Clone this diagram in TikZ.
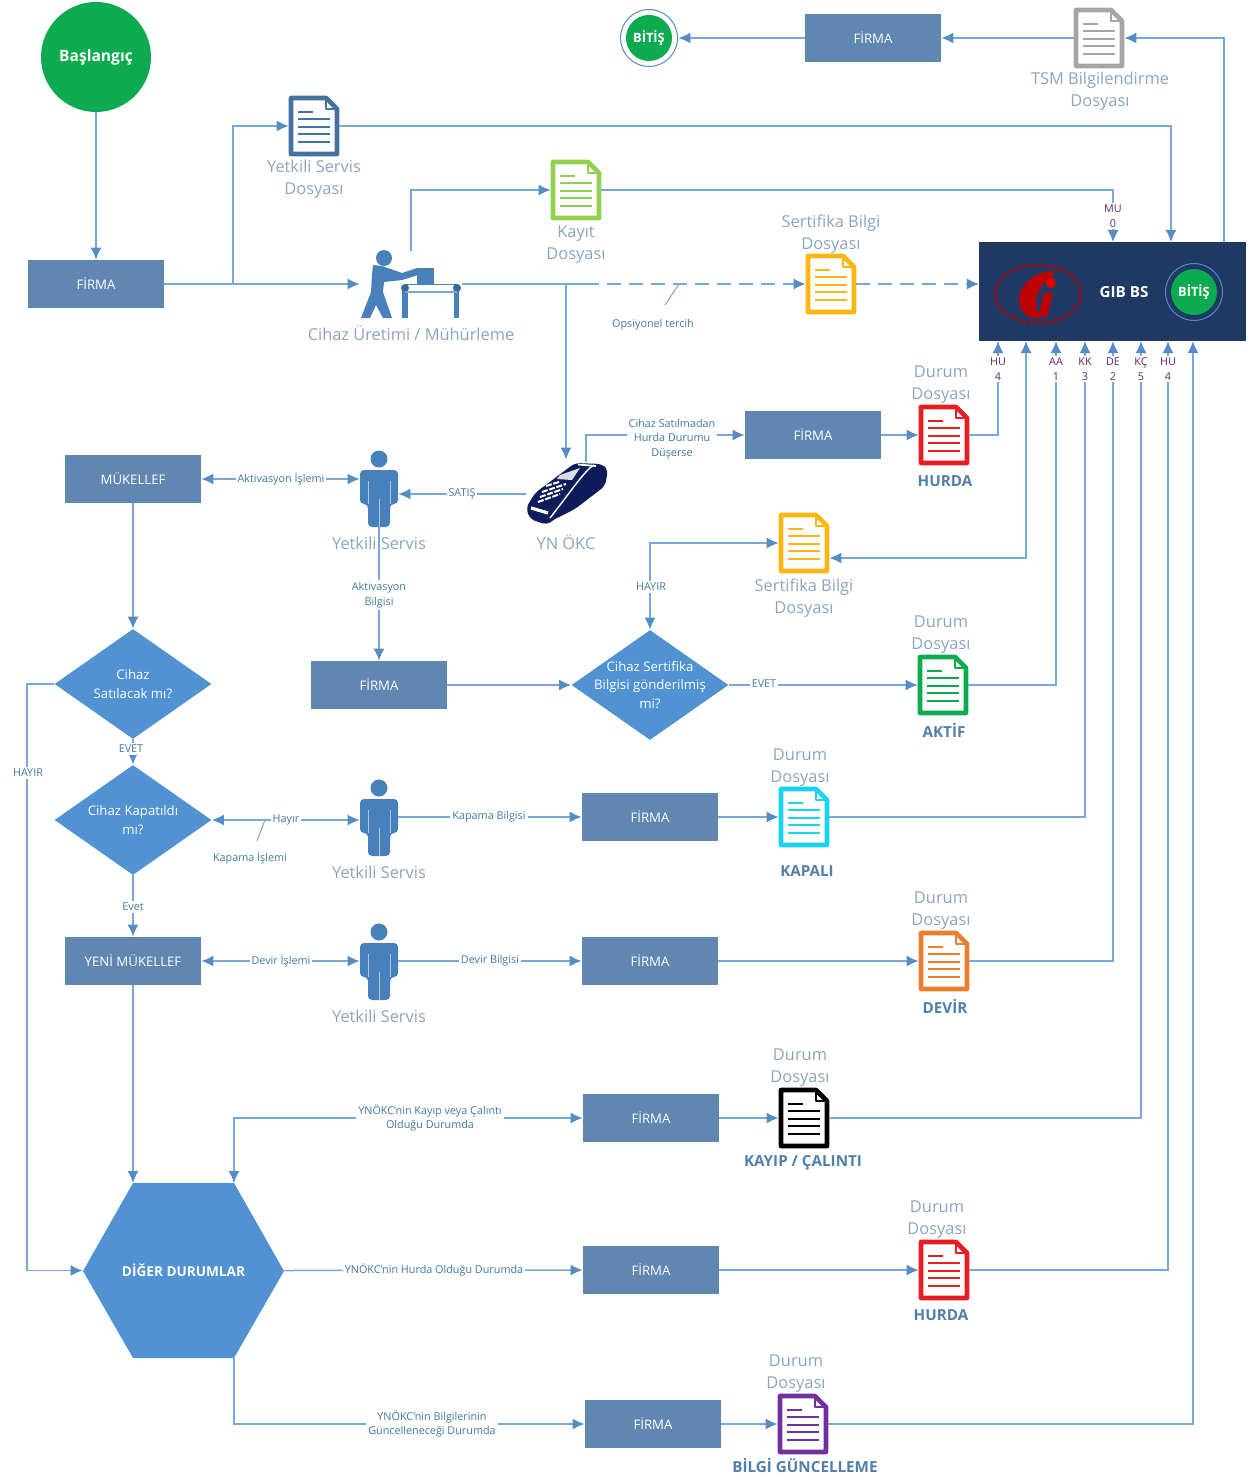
\documentclass[tikz,border=0pt]{standalone}
\usepackage{fontspec}
\setmainfont{Open Sans}
\usetikzlibrary{arrows.meta,shapes.geometric,calc}
\definecolor{hatrenk}{RGB}{122,168,214}
\definecolor{okrenk}{RGB}{84,141,198}
\definecolor{kutu}{RGB}{96,134,178}
\definecolor{karar}{RGB}{80,146,210}
\definecolor{kisirenk}{RGB}{72,128,188}
\definecolor{yazi}{RGB}{138,165,190}
\definecolor{etiketyazi}{RGB}{66,120,160}
\definecolor{kalin}{RGB}{80,128,170}
\definecolor{lacivert}{RGB}{31,56,100}
\definecolor{posrenk}{RGB}{14,28,92}
\definecolor{yesil}{RGB}{13,171,79}
\definecolor{mor}{RGB}{96,40,110}
\definecolor{dosyagri}{RGB}{165,165,165}
\definecolor{dosyamavi}{RGB}{68,114,160}
\definecolor{dosyayesil}{RGB}{146,208,80}
\definecolor{dosyasari}{RGB}{251,182,18}
\definecolor{dosyakirmizi}{RGB}{232,28,36}
\definecolor{dosyacamgobegi}{RGB}{25,212,240}
\definecolor{dosyaturuncu}{RGB}{237,125,49}
\definecolor{dosyamor}{RGB}{112,48,160}
\newlength{\du}
\setlength{\du}{0.5pt}
\tikzset{
  baglanti/.style={draw=hatrenk,line width=0.75pt,-{Latex[length=6pt,width=5.5pt,color=okrenk]}},
  ikiyon/.style={draw=hatrenk,line width=0.75pt,{Latex[length=6pt,width=5.5pt,color=okrenk]}-{Latex[length=6pt,width=5.5pt,color=okrenk]}},
  duzhat/.style={draw=hatrenk,line width=0.75pt},
  kesikhat/.style={draw=hatrenk,line width=0.75pt,dash pattern=on 7pt off 4pt,-{Latex[length=6pt,width=5.5pt,color=okrenk]}},
  ince/.style={draw=hatrenk,line width=0.5pt},
  firmakutu/.style={rectangle,fill=kutu,text=white,font=\fontsize{6.6}{8}\selectfont,minimum width=136\du,minimum height=48\du,inner sep=0pt},
  kararkutu/.style={diamond,fill=karar,minimum width=157\du,minimum height=110\du,inner sep=0pt},
  kararyazi/.style={text=white,font=\fontsize{6.6}{9.2}\selectfont,align=center,inner sep=0pt},
  baslik/.style={text=yazi,font=\fontsize{8.2}{11}\selectfont,align=center,inner sep=0pt,yshift=-2\du},
  etiket/.style={text=etiketyazi,font=\fontsize{5.4}{7.4}\selectfont,align=center,fill=white,inner sep=1pt,yshift=-2\du},
  kodyazi/.style={text=mor,font=\fontsize{5.4}{7.8}\selectfont,align=center,fill=white,inner sep=0.5pt},
  kalinyazi/.style={text=kalin,font=\fontsize{7.6}{9}\selectfont\bfseries,inner sep=0pt},
  dosyakutu/.style={rectangle,minimum width=50\du,minimum height=60\du,inner sep=0pt},
  kisikutu/.style={rectangle,minimum width=38\du,minimum height=76\du,inner sep=0pt},
}
% document icon, centred on the node
\newcommand{\dosya}[4]{
\node[dosyakutu] (#1) at (#2\du,#3\du) {};
\begin{scope}[shift={(#2\du,#3\du)},draw=#4]
\draw[line width=2.3pt,line join=round,fill=white] (-23\du,-28\du)--(12\du,-28\du)--(23\du,-17\du)--(23\du,28\du)--(-23\du,28\du)--cycle;
\draw[line width=1.1pt,line join=round] (12\du,-27\du)--(12\du,-17\du)--(22\du,-17\du);
\draw[line width=1.2pt] (-16\du,-14\du)--(-1\du,-14\du);
\draw[line width=1.2pt] (-16\du,-7\du)--(16\du,-7\du);
\draw[line width=1.2pt] (-16\du,1\du)--(16\du,1\du);
\draw[line width=1.2pt] (-16\du,8\du)--(16\du,8\du);
\draw[line width=1.2pt] (-16\du,16\du)--(16\du,16\du);
\end{scope}
}
% standing person icon
\newcommand{\kisi}[3]{
\node[kisikutu] (#1) at (#2\du,#3\du) {};
\begin{scope}[shift={(#2\du,#3\du)}]
\fill[kisirenk] (0\du,-30\du) circle (8.5\du);
\fill[kisirenk,rounded corners=2pt] (-19\du,-19\du)--(19\du,-19\du)--(19\du,15\du)--(11\du,15\du)--(11\du,38\du)--(-11\du,38\du)--(-11\du,15\du)--(-19\du,15\du)--cycle;
\draw[white!55!kisirenk,line width=0.35pt] (0\du,10\du)--(0\du,38\du) (-11\du,-8\du)--(-11\du,15\du) (11\du,-8\du)--(11\du,15\du);
\end{scope}
}
% end circle
\newcommand{\bitis}[4]{
\node[circle,fill=#4,minimum size=58\du,inner sep=0pt] (#1halka) at (#2\du,#3\du) {};
\draw[okrenk,line width=0.5pt] (#2\du,#3\du) circle (28.5\du);
\node[circle,fill=yesil,text=white,font=\fontsize{6.4}{8}\selectfont\bfseries,minimum size=46\du,inner sep=0pt] (#1) at (#2\du,#3\du) {BİTİŞ};
}

\begin{document}
\begin{tikzpicture}
\pgftransformxscale{1.000000}
\pgftransformyscale{-1.000000}
\useasboundingbox (0\du,0\du) rectangle (1257\du,1482\du);

% start and top row
\node[circle,fill=yesil,text=white,font=\fontsize{7.8}{9}\selectfont\bfseries,minimum size=110\du,inner sep=0pt] (baslangic) at (96\du,57\du) {Başlangıç};
\bitis{bitisust}{649}{38}{white}
\node[firmakutu] (firmaust) at (873\du,38\du) {FİRMA};
\dosya{tsm}{1099}{38}{dosyagri}
\node[baslik] (tsmyazi) at (1100\du,89\du) {TSM Bilgilendirme\\Dosyası};
\dosya{yetkili}{314}{126}{dosyamavi}
\node[baslik] (yetkiliyazi) at (314\du,177\du) {Yetkili Servis\\Dosyası};
\dosya{kayit}{576}{190}{dosyayesil}
\node[baslik] (kayityazi) at (576\du,243\du) {Kayıt\\Dosyası};
\dosya{sertifika}{831}{284}{dosyasari}
\node[baslik] (sertifikayazi) at (831\du,232\du) {Sertifika Bilgi\\Dosyası};

\node[firmakutu] (firma) at (96\du,284\du) {FİRMA};

% production worker
\node[rectangle,minimum width=102\du,minimum height=66\du,inner sep=0pt] (uretim) at (411\du,284\du) {};
\fill[kisirenk] (384\du,258\du) circle (8\du);
\fill[kisirenk] (373\du,265\du)--(382\du,266\du)--(402\du,273\du)--(417\du,268\du)--(418\du,275\du)--(402\du,280\du)--(384\du,282\du)--(383\du,292\du)--(392\du,318\du)--(383\du,318\du)--(376\du,305\du)--(370\du,318\du)--(361\du,318\du)--(371\du,292\du)--(372\du,275\du)--cycle;
\fill[kisirenk] (417\du,268\du) rectangle (434\du,284\du);
\draw[kisirenk,line width=0.5pt] (405\du,284\du)--(457\du,284\du);
\fill[kisirenk] (402\du,288\du) rectangle (408\du,318\du);
\fill[kisirenk] (454\du,288\du) rectangle (459\du,318\du);
\fill[black!20!kisirenk] (405\du,288\du) circle (4\du);
\fill[black!20!kisirenk] (457\du,288\du) circle (4\du);
\draw[hatrenk,line width=0.7pt] (405\du,292\du)--(457\du,292\du);
\node[baslik] (uretimyazi) at (411\du,331\du) {Cihaz Üretimi / Mühürleme};

% GIB box
\node[rectangle,fill=lacivert,minimum width=267\du,minimum height=99\du,inner sep=0pt] (gib) at (1112.5\du,291.5\du) {};
\draw[red!70!black,line width=0.7pt] (1038\du,294\du) ellipse ({43\du} and {29\du});
\fill[red!75!black] (1054\du,271\du) .. controls (1032\du,271\du) and (1018\du,288\du) .. (1019\du,302\du) .. controls (1020\du,310\du) and (1025\du,316\du) .. (1033\du,318\du) -- (1040\du,318\du) .. controls (1032\du,305\du) and (1036\du,285\du) .. (1052\du,278\du) -- cycle;
\fill[red!75!black] (1044\du,293\du)--(1053\du,293\du)--(1047\du,317\du)--(1038\du,317\du)--cycle;
\fill[red!90!black] (1051\du,283\du) circle (5\du);
\node[text=white,font=\fontsize{7.6}{9}\selectfont\bfseries,inner sep=0pt] (gibyazi) at (1124\du,292\du) {GIB BS};
\bitis{bitisgib}{1194}{292}{lacivert}
\coordinate (gibhua) at (998\du,341\du);
\coordinate (gibser) at (1026\du,341\du);
\coordinate (gibaa) at (1056\du,341\du);
\coordinate (gibkk) at (1085\du,341\du);
\coordinate (gibde) at (1113\du,341\du);
\coordinate (gibkc) at (1141\du,341\du);
\coordinate (gibhub) at (1168\du,341\du);
\coordinate (gibgu) at (1193\du,341\du);
\coordinate (gibust) at (1224\du,242\du);
\coordinate (gibmu) at (1113\du,242\du);
\coordinate (gibyet) at (1171\du,242\du);
\coordinate (gibsol) at (979\du,284\du);

% POS device
\node[rectangle,minimum width=80\du,minimum height=68\du,inner sep=0pt] (pos) at (566\du,494\du) {};
\fill[posrenk,rounded corners=2.5pt] (526\du,508\du)--(535\du,493\du)--(575\du,463\du)--(602\du,464\du)--(608\du,470\du)--(605\du,486\du)--(575\du,509\du)--(553\du,520\du)--(547\du,525\du)--(530\du,519\du)--cycle;
\draw[white,line width=0.7pt] (594\du,465\du) .. controls (585\du,470\du) and (572\du,490\du) .. (550\du,518\du);
\draw[white,line width=0.9pt] (578\du,464.5\du)--(596\du,466\du);
\fill[white!85!posrenk] (560\du,475\du)--(580\du,468\du)--(572\du,480\du)--(557\du,479\du)--cycle;
\draw[white,line width=1pt,dash pattern=on 3pt off 0.8pt] (546\du,486\du)--(559\du,482\du) (542\du,492\du)--(566\du,484\du) (540\du,497\du)--(563\du,489\du) (538\du,502\du)--(560\du,494\du);
\draw[white,line width=1.6pt] (531\du,508\du)--(548\du,513\du);
\node[baslik] (posyazi) at (566\du,540\du) {YN ÖKC};

% flow rows
\node[firmakutu] (firmahurda) at (813\du,435\du) {FİRMA};
\dosya{hurda}{944}{435}{dosyakirmizi}
\node[baslik] (hurdaust) at (941\du,383\du) {Durum\\Dosyası};
\node[kalinyazi] (hurdayazi) at (945\du,481\du) {HURDA};
\node[firmakutu] (mukellef) at (133\du,479\du) {MÜKELLEF};
\kisi{kisiaktif}{379}{489}
\node[baslik] (kisiaktifyazi) at (379\du,541\du) {Yetkili Servis};
\dosya{sertifikaiki}{804}{543}{dosyasari}
\node[baslik] (sertifikaikiyazi) at (804\du,596\du) {Sertifika Bilgi\\Dosyası};

\node[kararkutu] (satilacak) at (133\du,684\du) {};
\node[kararyazi] (satilacakyazi) at (133\du,684\du) {Cihaz\\Satılacak mı?};
\node[firmakutu] (firmaaktif) at (379\du,685\du) {FİRMA};
\node[kararkutu] (gonderildi) at (650\du,685\du) {};
\node[kararyazi] (gonderildiyazi) at (650\du,685\du) {Cihaz Sertifika\\Bilgisi gönderilmiş\\mi?};
\dosya{aktif}{943}{685}{yesil}
\node[baslik] (aktifust) at (941\du,633\du) {Durum\\Dosyası};
\node[kalinyazi] (aktifyazi) at (944\du,730\du) {AKTİF};

\node[kararkutu] (kapatildi) at (133\du,820\du) {};
\node[kararyazi] (kapatildiyazi) at (133\du,820\du) {Cihaz Kapatıldı\\mı?};
\kisi{kisikapama}{379}{818}
\node[baslik] (kisikapamayazi) at (379\du,870\du) {Yetkili Servis};
\node[firmakutu] (firmakapama) at (650\du,817\du) {FİRMA};
\dosya{kapali}{804}{817}{dosyacamgobegi}
\node[baslik] (kapaliust) at (800\du,766\du) {Durum\\Dosyası};
\node[kalinyazi] (kapaliyazi) at (807\du,871\du) {KAPALI};

\node[firmakutu] (yeni) at (133\du,961\du) {YENİ MÜKELLEF};
\kisi{kisidevir}{379}{962}
\node[baslik] (kisideviryazi) at (379\du,1014\du) {Yetkili Servis};
\node[firmakutu] (firmadevir) at (650\du,961\du) {FİRMA};
\dosya{devir}{944}{961}{dosyaturuncu}
\node[baslik] (devirust) at (941\du,909\du) {Durum\\Dosyası};
\node[kalinyazi] (deviryazi) at (945\du,1006\du) {DEVİR};

\node[firmakutu] (firmakayip) at (651\du,1118\du) {FİRMA};
\dosya{kayip}{804}{1118}{black}
\node[baslik] (kayipust) at (800\du,1066\du) {Durum\\Dosyası};
\node[kalinyazi] (kayipyazi) at (803\du,1163\du) {KAYIP / ÇALINTI};

% hexagon
\fill[karar] (83\du,1271\du)--(133\du,1183\du)--(234\du,1183\du)--(284\du,1271\du)--(234\du,1358\du)--(133\du,1358\du)--cycle;
\node[rectangle,text=white,font=\fontsize{6.8}{8}\selectfont\bfseries,minimum width=201\du,minimum height=175\du,inner sep=0pt] (diger) at (183.5\du,1270.5\du) {DİĞER DURUMLAR};
\coordinate (digersol) at (133\du,1183\du);
\coordinate (digersag) at (234\du,1183\du);
\coordinate (digeralt) at (234\du,1358\du);

\node[firmakutu] (firmahurdaiki) at (651\du,1270\du) {FİRMA};
\dosya{hurdaiki}{944}{1270}{dosyakirmizi}
\node[baslik] (hurdaikiust) at (937\du,1218\du) {Durum\\Dosyası};
\node[kalinyazi] (hurdaikiyazi) at (941\du,1315\du) {HURDA};

\node[firmakutu] (firmabilgi) at (653\du,1424\du) {FİRMA};
\dosya{bilgi}{803}{1424}{dosyamor}
\node[baslik] (bilgiust) at (796\du,1372\du) {Durum\\Dosyası};
\node[kalinyazi] (bilgiyazi) at (805\du,1466\du) {BİLGİ GÜNCELLEME};

% connectors
\draw[baglanti] (baslangic.south)--(firma.north);
\draw[baglanti] (firma.east)--(uretim.west);
\coordinate (dalyetkili) at (233\du,284\du);
\draw[baglanti] (dalyetkili) |- (yetkili.west);
\draw[baglanti] (yetkili.east) -| (gibyet);
\draw[baglanti] (uretim.north) |- (kayit.west);
\draw[baglanti] (kayit.east) -| (gibmu);
\coordinate (daluretim) at (566\du,284\du);
\coordinate (kesikbas) at (585\du,284\du);
\draw[duzhat] (uretim.east)--(kesikbas);
\draw[kesikhat] (kesikbas)--(sertifika.west);
\draw[kesikhat] (sertifika.east)--(gibsol);
\draw[baglanti] (daluretim)--(pos.north);
\coordinate (posust) at (586\du,462\du);
\draw[baglanti] (posust) |- (firmahurda.west);
\draw[baglanti] (firmahurda.east)--(hurda.west);
\draw[baglanti] (hurda.east) -| (gibhua);
\draw[baglanti] (pos.west)--(pos.west -| kisiaktif.east);
\draw[ikiyon] (mukellef.east)--(mukellef.east -| kisiaktif.west);
\draw[baglanti] (mukellef.south)--(satilacak.north);
\draw[baglanti] (kisiaktif.south)--(firmaaktif.north);
\draw[baglanti] (firmaaktif.east)--(gonderildi.west);
\coordinate (kosedon) at (650\du,543\du);
\draw[ikiyon] (gonderildi.north)--(kosedon)--(sertifikaiki.west);
\draw[ikiyon] (gibser) |- ($(sertifikaiki.east)+(0\du,15\du)$);
\draw[baglanti] (gonderildi.east)--(aktif.west);
\draw[baglanti] (aktif.east) -| (gibaa);
\coordinate (hayirkose) at (27\du,684\du);
\draw[baglanti] (satilacak.west)--(hayirkose) |- (diger.west);
\draw[baglanti] (satilacak.south)--(kapatildi.north);
\draw[ikiyon] (kapatildi.east)--(kapatildi.east -| kisikapama.west);
\draw[baglanti] (firmakapama.west -| kisikapama.east)--(firmakapama.west);
\draw[baglanti] (firmakapama.east)--(kapali.west);
\draw[baglanti] (kapali.east) -| (gibkk);
\draw[baglanti] (kapatildi.south)--(yeni.north);
\draw[ikiyon] (yeni.east)--(yeni.east -| kisidevir.west);
\draw[baglanti] (yeni.east -| kisidevir.east)--(firmadevir.west);
\draw[baglanti] (firmadevir.east)--(devir.west);
\draw[baglanti] (devir.east) -| (gibde);
\draw[baglanti] (yeni.south)--(digersol);
\draw[ikiyon] (digersag) |- (firmakayip.west);
\draw[baglanti] (firmakayip.east)--(kayip.west);
\draw[baglanti] (kayip.east) -| (gibkc);
\draw[baglanti] (diger.east)--(firmahurdaiki.west);
\draw[baglanti] (firmahurdaiki.east)--(hurdaiki.west);
\draw[baglanti] (hurdaiki.east) -| (gibhub);
\draw[baglanti] (digeralt) |- (firmabilgi.west);
\draw[baglanti] (firmabilgi.east)--(bilgi.west);
\draw[baglanti] (bilgi.east) -| (gibgu);
\draw[baglanti] (gibust) |- (tsm.east);
\draw[baglanti] (tsm.west)--(firmaust.east);
\draw[baglanti] (firmaust.west)--(bitisusthalka.east);

% labels on the lines
\node[kodyazi] (kodmu) at (1113\du,216\du) {MU\\0};
\node[kodyazi] (kodhua) at (998\du,369\du) {HU\\4};
\node[kodyazi] (kodaa) at (1056\du,369\du) {AA\\1};
\node[kodyazi] (kodkk) at (1085\du,369\du) {KK\\3};
\node[kodyazi] (kodde) at (1113\du,369\du) {DE\\2};
\node[kodyazi] (kodkc) at (1141\du,369\du) {KÇ\\5};
\node[kodyazi] (kodhub) at (1168\du,369\du) {HU\\4};
\node[etiket] (opsiyonel) at (653\du,323\du) {Opsiyonel tercih};
\coordinate (opsust) at (679\du,284\du);
\coordinate (opsalt) at (665\du,305\du);
\draw[ince] (opsust)--(opsalt);
\node[etiket] (satilmadan) at (672\du,437\du) {Cihaz Satılmadan\\Hurda Durumu\\Düşerse};
\node[etiket] (satis) at (462\du,492\du) {SATIŞ};
\node[etiket] (aktivasyon) at (281\du,477\du) {Aktivasyon İşlemi};
\node[etiket] (aktivasyonbilgi) at (379\du,593\du) {Aktivasyon\\Bilgisi};
\node[etiket] (hayirust) at (651\du,585\du) {HAYIR};
\node[etiket] (evetsag) at (764\du,682\du) {EVET};
\node[etiket] (evetsol) at (131\du,747\du) {EVET};
\node[etiket] (hayirsol) at (28\du,771\du) {HAYIR};
\node[etiket] (hayirkapa) at (286\du,818\du) {Hayır};
\node[etiket] (kapamaislem) at (250\du,856\du) {Kapama İşlemi};
\coordinate (kapust) at (265\du,820\du);
\coordinate (kapalt) at (257\du,841\du);
\draw[ince] (kapust)--(kapalt);
\node[etiket] (kapamabilgi) at (489\du,815\du) {Kapama Bilgisi};
\node[etiket] (evetalt) at (133\du,905\du) {Evet};
\node[etiket] (devirislem) at (281\du,959\du) {Devir İşlemi};
\node[etiket] (devirbilgi) at (490\du,959\du) {Devir Bilgisi};
\node[etiket] (kayipetiket) at (430\du,1116\du) {YNÖKC’nin Kayıp veya Çalıntı\\Olduğu Durumda};
\node[etiket] (hurdaetiket) at (434\du,1268\du) {YNÖKC’nin Hurda Olduğu Durumda};
\node[etiket] (bilgietiket) at (432\du,1422\du) {YNÖKC’nin Bilgilerinin\\Güncelleneceği Durumda};
\end{tikzpicture}
\end{document}
